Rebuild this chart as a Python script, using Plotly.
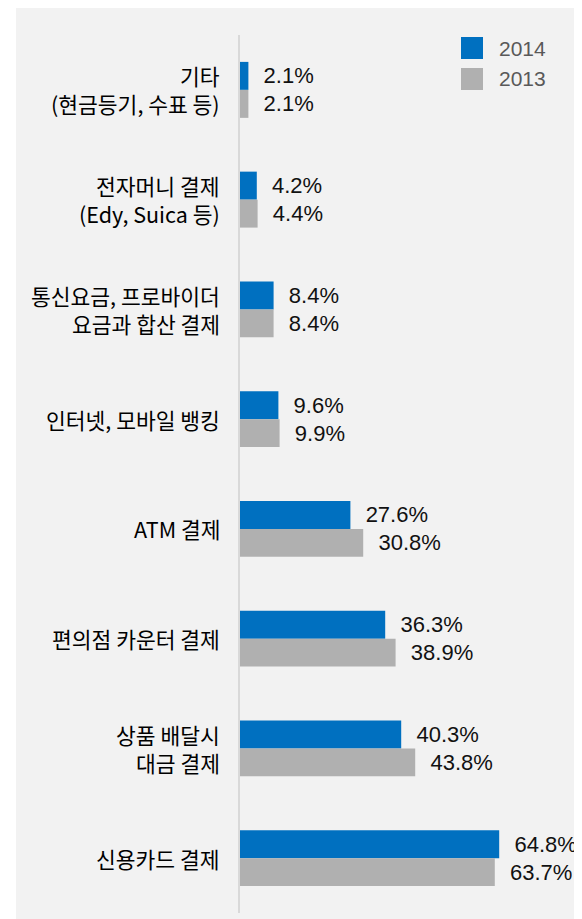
import plotly.graph_objects as go

categories = [
    "기타<br>(현금등기, 수표 등)",
    "전자머니 결제<br>(Edy, Suica 등)",
    "통신요금, 프로바이더<br>요금과 합산 결제",
    "인터넷, 모바일 뱅킹",
    "ATM 결제",
    "편의점 카운터 결제",
    "상품 배달시<br>대금 결제",
    "신용카드 결제",
]
values_2014 = [2.1, 4.2, 8.4, 9.6, 27.6, 36.3, 40.3, 64.8]
values_2013 = [2.1, 4.4, 8.4, 9.9, 30.8, 38.9, 43.8, 63.7]
series_names = ["2014", "2013"]
series_colors = ["#0070c0", "#b0b0b0"]

FONT = "Liberation Sans, Arial, Noto Sans CJK KR"
KFONT = "Noto Sans CJK KR, Liberation Sans"

# The page body adds an 8px offset; work in page pixels and convert.
OFF = 8
W, H = 582 - OFF, 919 - OFF
PL, PR, PT, PB = 240, 576, 35, 913  # plot area in page pixels

def px_x(px):
    return (px - PL) / (PR - PL)

def px_y(py):
    return (PB - py) / (PB - PT)

fig = go.Figure()
for name, vals, col in zip(series_names, [values_2014, values_2013], series_colors):
    fig.add_trace(go.Bar(
        name=name,
        y=list(range(len(categories))),
        x=vals,
        orientation="h",
        marker=dict(color=col, line=dict(width=0)),
        text=["\u00a0\u00a0" + f"{v:.1f}%" for v in vals],
        textposition="outside",
        cliponaxis=False,
        textfont=dict(family=FONT, size=22, color="#111111"),
        showlegend=False,
    ))

annotations = []
for i, cat in enumerate(categories):
    lines = cat.split("<br>")
    shifts = [0] if len(lines) == 1 else [14, -14]
    for line, s in zip(lines, shifts):
        annotations.append(dict(
            x=px_x(222), xref="paper", y=i, yref="y", text=line, showarrow=False,
            xanchor="right", yanchor="middle", yshift=s,
            font=dict(family=KFONT, size=21.5, color="#000000"),
        ))

shapes = [
    dict(type="rect", xref="paper", yref="paper", layer="below",
         x0=px_x(16), x1=px_x(576), y0=px_y(919), y1=px_y(3),
         fillcolor="#f2f2f2", line=dict(width=0)),
]

# manual legend
for name, col, (y0, y1) in zip(series_names, series_colors, [(37, 59), (68, 90)]):
    shapes.append(dict(type="rect", xref="paper", yref="paper",
                       x0=px_x(461), x1=px_x(483), y0=px_y(y1), y1=px_y(y0),
                       fillcolor=col, line=dict(width=0)))
    annotations.append(dict(
        x=px_x(497), xref="paper", y=px_y((y0 + y1) / 2), yref="paper",
        text=name, showarrow=False, xanchor="left", yanchor="middle",
        font=dict(family=FONT, size=21, color="#595959"),
    ))

fig.update_layout(
    width=W, height=H,
    margin=dict(l=PL - OFF, r=W - (PR - OFF), t=PT - OFF, b=H - (PB - OFF)),
    paper_bgcolor="white",
    plot_bgcolor="rgba(0,0,0,0)",
    barmode="group",
    bargap=0.49,
    bargroupgap=0,
    xaxis=dict(range=[0, 84], showgrid=False, zeroline=False, showticklabels=False,
               showline=False, fixedrange=True),
    yaxis=dict(range=[7.5, -0.5], showgrid=False, zeroline=False, showticklabels=False,
               showline=True, linecolor="#d9d9d9", linewidth=2, fixedrange=True),
    shapes=shapes,
    annotations=annotations,
)

fig.write_html("out.html")
